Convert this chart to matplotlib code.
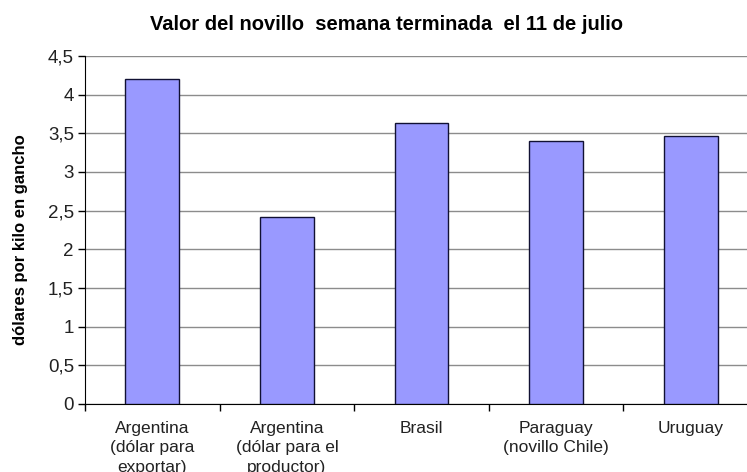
import matplotlib
matplotlib.use("Agg")
import matplotlib.pyplot as plt
import numpy as np

plt.rcParams['font.family'] = ['Liberation Sans', 'DejaVu Sans']

categories = ["Argentina\n(dólar para\nexportar)", "Argentina\n(dólar para el\nproductor)",
              "Brasil", "Paraguay\n(novillo Chile)", "Uruguay"]
values = [4.2, 2.42, 3.64, 3.40, 3.46]
yticks = [0, 0.5, 1, 1.5, 2, 2.5, 3, 3.5, 4, 4.5]
ytick_labels = ["0", "0,5", "1", "1,5", "2", "2,5", "3", "3,5", "4", "4,5"]

fig = plt.figure(figsize=(7.47, 4.72), dpi=100)
ax = fig.add_axes([85/747, 68/472, 673/747, 348/472])

x = np.arange(len(categories))
ax.bar(x, values, width=0.40, color="#9999FF", edgecolor="#111133", linewidth=1.0, zorder=3)

ax.set_xlim(-0.5, len(categories) - 0.5)
ax.set_ylim(0, 4.5)
ax.set_yticks(yticks)
ax.set_yticklabels(ytick_labels, fontsize=13.5, color="#222222")
ax.yaxis.grid(True, color="#8c8c8c", linewidth=1.0, zorder=0)
ax.set_axisbelow(True)

# category labels
ax.set_xticks(x)
ax.set_xticklabels(categories, fontsize=12.5, color="#222222", linespacing=1.38)
ax.tick_params(axis='x', length=0, pad=12)
ax.set_xticks(np.arange(-0.5, len(categories), 1.0), minor=True)
ax.tick_params(axis='x', which='minor', length=5, width=1, color='black', direction='out')
ax.tick_params(axis='y', length=5, width=1, color='black', direction='out', pad=3)

for s in ['top', 'right']:
    ax.spines[s].set_visible(False)
ax.spines['left'].set_color('black')
ax.spines['bottom'].set_color('black')

ax.set_ylabel("dólares por kilo en gancho", fontsize=12, fontweight='bold')
ax.yaxis.set_label_coords(-57/673, (404 - 240) / 348)
fig.text(387/747, 1 - 25/472, "Valor del novillo  semana terminada  el 11 de julio",
         ha='center', va='center', fontsize=14.5, fontweight='bold')

fig.savefig("out.png", dpi=100)
